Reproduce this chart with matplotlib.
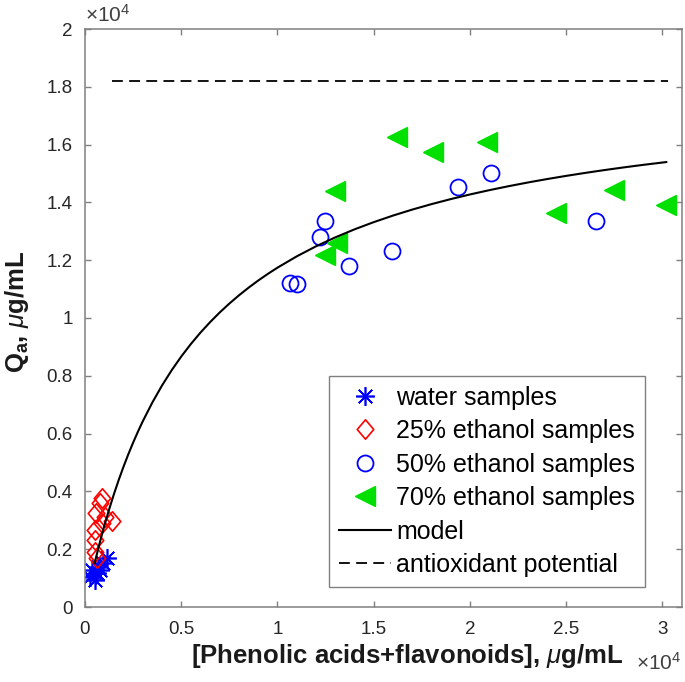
import matplotlib
matplotlib.use('Agg')
import matplotlib.pyplot as plt
from matplotlib.path import Path
from matplotlib.ticker import FuncFormatter, MultipleLocator

plt.rcParams['font.family'] = ['Liberation Sans', 'DejaVu Sans']
plt.rcParams['mathtext.fontset'] = 'custom'
plt.rcParams['mathtext.rm'] = 'Liberation Sans'
plt.rcParams['mathtext.it'] = 'Liberation Sans:italic'
plt.rcParams['mathtext.bf'] = 'Liberation Sans:bold'

# data, ug/mL
water_x = [610, 350, 950, 1130, 520, 780, 260, 690]
water_y = [1170, 1280, 1510, 1680, 930, 1280, 1050, 1390]

eth25_x = [870, 780, 550, 1040, 1380, 870, 520, 520, 520, 610]
eth25_y = [3760, 3590, 3240, 3120, 2990, 2900, 2660, 2320, 1910, 1680]

eth50_x = [19370, 21070, 12450, 12200, 13700, 15970, 10640, 11020, 26570]
eth50_y = [14540, 15010, 13370, 12810, 11810, 12320, 11200, 11170, 13370]

eth70_x = [16210, 18100, 20870, 12970, 13090, 12450, 24480, 27500, 30210]
eth70_y = [16270, 15730, 16080, 14400, 12610, 12180, 13620, 14430, 13910]

# model curve
model_x = [500, 750, 1000, 1250, 1500, 1750, 2000, 2250, 2500, 2750, 3000,
           3500, 4000, 4500, 5000, 5500, 6000, 6500, 7000, 7500, 8000, 8500,
           9000, 9500, 10000, 11000, 12000, 13000, 14000, 15000, 16000, 17000,
           18000, 19000, 20000, 21000, 22000, 23000, 24000, 25000, 26000,
           27000, 28000, 29000, 30200]
model_y = [1517, 2184, 2800, 3370, 3900, 4393, 4853, 5284, 5688, 6067, 6424,
           7078, 7663, 8190, 8667, 9100, 9496, 9858, 10192, 10500, 10785, 11050,
           11297, 11527, 11742, 12133, 12480, 12789, 13067, 13317, 13544, 13751,
           13940, 14114, 14275, 14423, 14560, 14688, 14807, 14918, 15022,
           15120, 15212, 15299, 15396]

antioxidant_potential = 18200
potential_span = [1400, 30300]

fig = plt.figure(figsize=(6.85, 6.82), dpi=100)
ax = fig.add_axes([85 / 685, 75 / 682, 596.7 / 685, 578 / 682])

diamond = Path([(0, 1), (0.85, 0), (0, -1), (-0.85, 0), (0, 1)], closed=True)

ax.plot(water_x, water_y, ls='none', marker=(8, 2, 0), ms=13.5, mec='#0000ff',
        mew=1.2, label='water samples')
ax.plot(eth25_x, eth25_y, ls='none', marker=diamond, ms=14, mfc='none',
        mec='#ff0000', mew=1.2, label='25% ethanol samples')
ax.plot(eth50_x, eth50_y, ls='none', marker='o', ms=11.5, mfc='none',
        mec='#0000ff', mew=1.3, label='50% ethanol samples')
ax.plot(eth70_x, eth70_y, ls='none', marker='<', ms=14, color='#00e000',
        mec='#00e000', label='70% ethanol samples')
ax.plot(model_x, model_y, color='k', lw=1.5, label='model')
ax.hlines(antioxidant_potential, potential_span[0], potential_span[1], colors='k',
          linestyles=(0, (6, 3.5)), lw=1.3, label='antioxidant potential')

ax.set_xlim(0, 31000)
ax.set_ylim(0, 20000)
ax.xaxis.set_major_locator(MultipleLocator(5000))
ax.yaxis.set_major_locator(MultipleLocator(2000))
fmt = FuncFormatter(lambda v, p: '%g' % round(v / 1e4, 3))
ax.xaxis.set_major_formatter(fmt)
ax.yaxis.set_major_formatter(fmt)

for s in ax.spines.values():
    s.set_color('#808080')
    s.set_linewidth(1.1)
ax.tick_params(direction='in', length=4, width=1, color='#808080',
               top=True, right=True, labelsize=13.5, labelcolor='#262626')
ax.tick_params(axis='x', pad=10)
ax.tick_params(axis='y', pad=9)

ax.text(0, 1.006, r'$\times10^{4}$', transform=ax.transAxes, ha='left',
        va='bottom', fontsize=15, color='#404040')
ax.text(1.0, -0.109, r'$\times10^{4}$', transform=ax.transAxes, ha='right',
        va='baseline', fontsize=15, color='#404040')

ax.set_xlabel(r'[Phenolic acids+flavonoids], $\mu$g/mL', fontsize=18.5,
              fontweight='bold', color='#1a1a1a')
ax.xaxis.set_label_coords(0.54, -0.06)
ax.xaxis.label.set_va('top')
ax.set_ylabel(r'Q$_\mathbf{a}$, $\mu$g/mL', fontsize=18.5, fontweight='bold',
              color='#1a1a1a')
ax.yaxis.set_label_coords(-0.09, 0.51)

leg = ax.legend(loc='lower right', bbox_to_anchor=(0.9385, 0.0346),
                borderaxespad=0, fontsize=18, handlelength=2.1,
                handletextpad=0.2, labelspacing=0.38, borderpad=0.4,
                fancybox=False, framealpha=1, edgecolor='#808080', numpoints=1)
leg.get_frame().set_linewidth(1.0)

fig.savefig('out.png', dpi=100)
